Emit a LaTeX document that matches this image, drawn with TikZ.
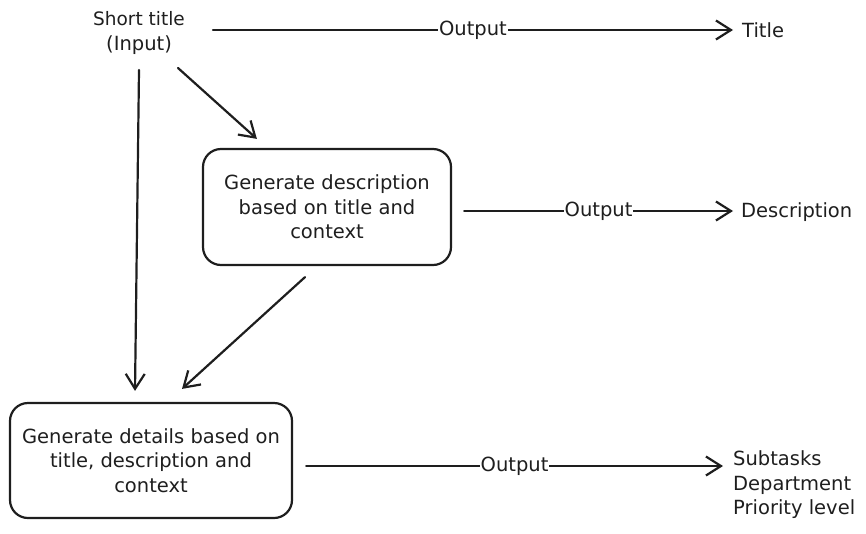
\documentclass[tikz,border=0pt]{standalone}
\usepackage{fontspec}
\setmainfont{DejaVu Sans}
\usetikzlibrary{arrows.meta,calc}
\definecolor{ink}{HTML}{1E1E1E}
\begin{document}
\begin{tikzpicture}[x=1pt,y=-1pt,
  every node/.style={text=ink,font=\fontsize{19.5}{24.5}\selectfont},
  stage/.style={draw=ink,line width=2.2pt,rounded corners=18pt,align=center,inner sep=0pt},
  flow/.style={draw=ink,line width=2.2pt,line cap=round,
    -{Straight Barb[length=15pt,width=19pt,line width=2.2pt]}},
  tag/.style={fill=white,inner sep=1pt},
  result/.style={anchor=west,align=left,inner sep=0pt}]
\useasboundingbox (0,0) rectangle (866,533);

% source text and the two processing steps
\node[align=center,inner sep=0pt] (input) at (139,33)
  {\fontsize{18.5}{24.5}\selectfont Short title\\(Input)};
\node[stage,minimum width=248pt,minimum height=116pt] (desc) at (327,207)
  {Generate description\\based on title and\\context};
\node[stage,minimum width=282pt,minimum height=115pt] (details) at (151,460.5)
  {Generate details based on\\title, description and\\context};

% results on the right
\node[result] (title) at (742,30) {Title};
\node[result] (descout) at (741,212) {Description};
\node[result] (detout) at (733,485) {Subtasks\\Department\\Priority level};

% connectors between the steps
\draw[flow] ($(input.center)+(39,35)$) -- ($(desc.north west)+(55,-9)$);
\draw[flow] ($(input.center)+(0,37)$) -- ($(details.north)+(-16,-11)$);
\draw[flow] ($(desc.south)+(-22,11)$) -- ($(details.north)+(31,-13)$);

% output arrows
\draw[flow] ($(input.center)+(74,-3)$) -- ($(title.west)+(-9,0)$)
  node[tag,midway] (o1) {Output};
\draw[flow] ($(desc.east)+(12,4)$) -- ($(descout.west)+(-8,-1)$)
  node[tag,midway] (o2) {Output};
\draw[flow] ($(details.east)+(13,5.5)$) -- ($(detout.west)+(-10,-19)$)
  node[tag,midway] (o3) {Output};
\end{tikzpicture}
\end{document}
